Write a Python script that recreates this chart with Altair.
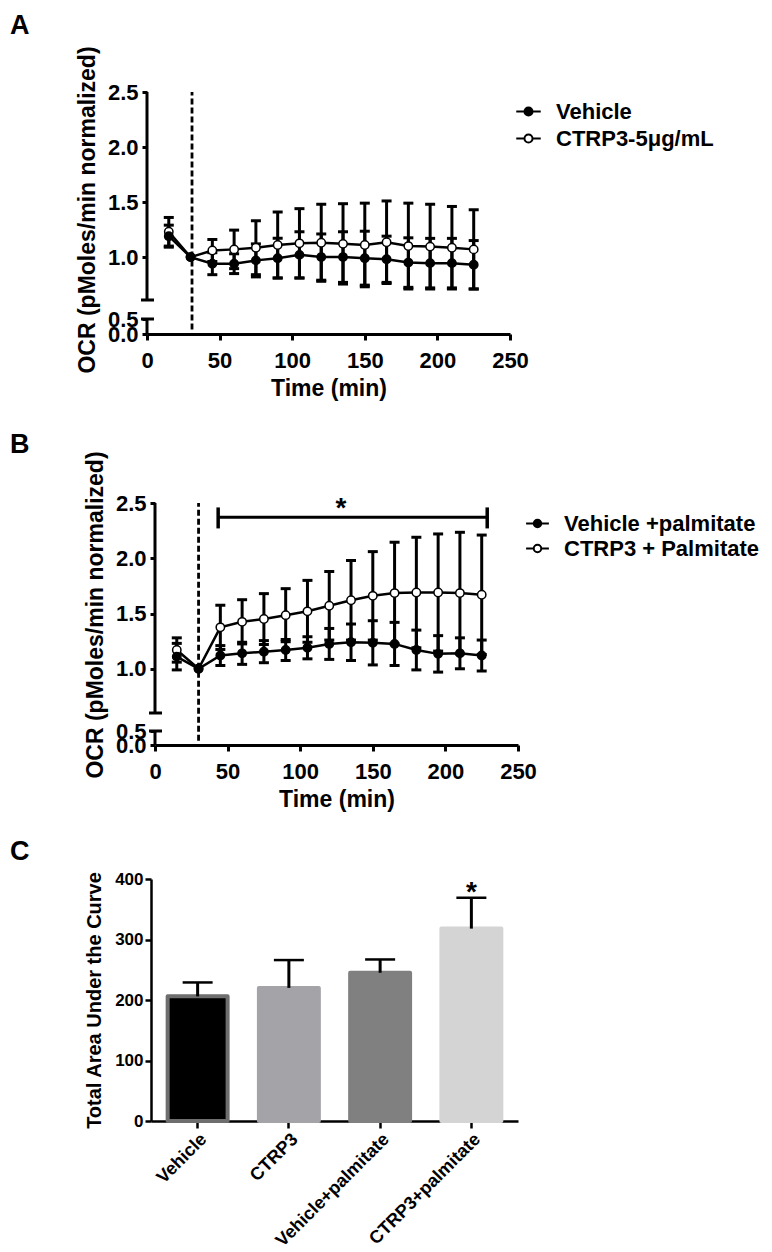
import altair as alt
import pandas as pd

FONT = "Liberation Sans"

# ---------------- data ----------------
time_min = [15, 30, 45, 60, 75, 90, 105, 120, 135, 150, 165, 180, 195, 210, 225]

a_series = ["Vehicle", "CTRP3-5μg/mL"]
a_vehicle = [1.19, 1.00, 0.94, 0.94, 0.97, 0.99, 1.02, 1.00, 1.00, 0.99, 0.98, 0.95, 0.945, 0.945, 0.93]
a_vehicle_sd = [0.10, 0.0, 0.10, 0.09, 0.15, 0.18, 0.21, 0.21, 0.23, 0.245, 0.21, 0.225, 0.225, 0.225, 0.22]
a_ctrp3 = [1.23, 1.00, 1.06, 1.07, 1.085, 1.11, 1.125, 1.13, 1.12, 1.11, 1.135, 1.10, 1.095, 1.085, 1.07]
a_ctrp3_sd = [0.13, 0.0, 0.10, 0.175, 0.245, 0.30, 0.315, 0.35, 0.365, 0.38, 0.375, 0.39, 0.385, 0.375, 0.36]
a_injection = 31

b_series = ["Vehicle +palmitate", "CTRP3 + Palmitate"]
b_vehicle = [1.11, 1.00, 1.12, 1.14, 1.155, 1.17, 1.19, 1.225, 1.24, 1.235, 1.225, 1.17, 1.135, 1.14, 1.12]
b_vehicle_sd = [0.12, 0.0, 0.09, 0.10, 0.10, 0.095, 0.10, 0.14, 0.165, 0.20, 0.195, 0.18, 0.165, 0.14, 0.14]
b_ctrp3 = [1.17, 1.00, 1.375, 1.425, 1.45, 1.485, 1.52, 1.57, 1.62, 1.66, 1.685, 1.69, 1.69, 1.685, 1.67]
b_ctrp3_sd = [0.11, 0.0, 0.20, 0.20, 0.23, 0.24, 0.28, 0.31, 0.36, 0.40, 0.46, 0.50, 0.53, 0.55, 0.54]
b_injection = 30
b_sig_span = [43.5, 228.8]
b_sig_level = 2.37
b_sig_cap = [2.27, 2.46]
b_sig_star_x = 128

ocr_ticks = [0.0, 0.5, 1.0, 1.5, 2.0, 2.5]
time_ticks = [0, 50, 100, 150, 200, 250]

c_groups = ["Vehicle", "CTRP3", "Vehicle+palmitate", "CTRP3+palmitate"]
c_auc = [206, 220, 245, 318]
c_err = [23, 46, 22, 51]
c_sig = ["", "", "", "*"]
c_fill = ["#000000", "#a3a3a8", "#808080", "#d4d4d4"]
c_edge = ["#6e6e6e", "#a3a3a8", "#808080", "#d4d4d4"]
auc_ticks = [0, 100, 200, 300, 400]

LEGEND_PATH = ("M-1,0L-0.33,0M0.33,0L1,0"
               "M-0.33,0A0.33,0.33,0,1,1,0.33,0A0.33,0.33,0,1,1,-0.33,0Z")

LETTER_X = -137


def letter_layer(letter, x, y):
    return alt.Chart(pd.DataFrame({"l": [letter]})).mark_text(
        align="left", baseline="top", fontSize=27, fontWeight="bold", font=FONT, color="black"
    ).encode(text="l:N", x=alt.value(x), y=alt.value(y))


def line_panel(letter, names, veh, veh_sd, ctrp, ctrp_sd, inj, y_break, y_px, x_px,
               width, height, shift, title_y, leg_x, leg_y, leg_size, leg_pad, letter_y,
               sig=False):
    xscale = alt.Scale(domain=[0, 250], range=x_px, nice=False, zero=False)
    yscale = alt.Scale(domain=[0, 0.5, y_break, 2.5], range=y_px, nice=False, zero=False)
    xaxis = alt.Axis(values=time_ticks, title="Time (min)", titleFontSize=23, titlePadding=6,
                     labelFontSize=22, labelPadding=10, tickSize=6, tickWidth=3, domainWidth=3,
                     labelFlush=False, labelOverlap=False, grid=False)
    yaxis = alt.Axis(values=ocr_ticks, format=".1f", title="OCR (pMoles/min normalized)",
                     titleFontSize=23, titlePadding=8, titleY=title_y, labelFontSize=22,
                     labelPadding=4, tickSize=5, tickWidth=3, domain=False, offset=-shift,
                     labelFlush=False, labelOverlap=False, grid=False)

    def X(f):
        return alt.X(field=f, type="quantitative", scale=xscale, axis=xaxis)

    def Y(f):
        return alt.Y(field=f, type="quantitative", scale=yscale, axis=yaxis)

    rows, caps = [], []
    for name, m, s in [(names[1], ctrp, ctrp_sd), (names[0], veh, veh_sd)]:
        for t, mi, si in zip(time_min, m, s):
            rows.append({"time": t, "series": name, "mean": mi, "lo": mi - si, "hi": mi + si})
            if si > 0:
                caps.append({"time": t, "v": mi - si})
                caps.append({"time": t, "v": mi + si})
    df = pd.DataFrame(rows)
    cdf = pd.DataFrame(caps)

    seg = pd.DataFrame({"lo": [0.0, y_break], "hi": [0.5, 2.5]})
    axis_line = alt.Chart(seg).mark_rule(color="black", strokeWidth=3).encode(
        x=alt.value(shift), y=Y("lo"), y2="hi")
    brk = pd.DataFrame({"v": [0.5, y_break]})
    break_marks = alt.Chart(brk).mark_rule(color="black", strokeWidth=3).encode(
        x=alt.value(shift - 6), x2=alt.value(shift + 7), y=Y("v"))
    dash = pd.DataFrame({"t": [inj], "lo": [0.15], "hi": [2.5]})
    dash_line = alt.Chart(dash).mark_rule(color="black", strokeWidth=2.8, strokeDash=[6, 3]).encode(
        x=X("t"), y=Y("lo"), y2="hi")
    errs = alt.Chart(df).mark_rule(color="black", strokeWidth=3).encode(
        x=X("time"), y=Y("lo"), y2="hi")
    capm = alt.Chart(cdf).mark_tick(color="black", orient="horizontal", size=10, thickness=3,
                                    opacity=1).encode(x=X("time"), y=Y("v"))
    lines = alt.Chart(df).mark_line(color="black", strokeWidth=2.5).encode(
        x=X("time"), y=Y("mean"), detail="series:N")
    pts = alt.Chart(df).mark_point(filled=True, size=70, stroke="black", strokeWidth=1.5,
                                   opacity=1).encode(
        x=X("time"), y=Y("mean"),
        fill=alt.Fill("series:N", scale=alt.Scale(domain=names, range=["black", "white"]),
                      legend=alt.Legend(title=None, orient="none", legendX=leg_x, legendY=leg_y,
                                        direction="vertical", symbolType=LEGEND_PATH,
                                        symbolSize=leg_size, symbolStrokeColor="black",
                                        symbolStrokeWidth=2, labelFont=FONT, labelFontSize=22,
                                        labelFontWeight="bold", labelColor="black",
                                        labelOffset=14, rowPadding=leg_pad, padding=0,
                                        labelLimit=400)))
    layers = [axis_line, break_marks, dash_line, errs, capm, lines, pts]
    if sig:
        br = pd.DataFrame({"x0": [b_sig_span[0]], "x1": [b_sig_span[1]], "y": [b_sig_level]})
        bracket = alt.Chart(br).mark_rule(color="black", strokeWidth=3).encode(
            x=X("x0"), x2="x1", y=Y("y"))
        bc = pd.DataFrame({"x": b_sig_span, "lo": [b_sig_cap[0]] * 2, "hi": [b_sig_cap[1]] * 2})
        bcaps = alt.Chart(bc).mark_rule(color="black", strokeWidth=3.5).encode(
            x=X("x"), y=Y("lo"), y2="hi")
        st = pd.DataFrame({"x": [b_sig_star_x], "y": [b_sig_level], "s": ["*"]})
        star = alt.Chart(st).mark_text(fontSize=28, fontWeight="bold", font=FONT,
                                       baseline="alphabetic", color="black").encode(
            x=X("x"), y=Y("y"), text="s:N")
        layers += [bracket, bcaps, star]
    layers.append(letter_layer(letter, LETTER_X, letter_y))
    return alt.layer(*layers).properties(width=width, height=height)


chart_a = line_panel("A", a_series, a_vehicle, a_vehicle_sd, a_ctrp3, a_ctrp3_sd, a_injection,
                     0.61, [242, 227, 208, 0], [0, 363], 363, 242, 0, 117.5,
                     368, 6, 600, 2, -79)
chart_b = line_panel("B", b_series, b_vehicle, b_vehicle_sd, b_ctrp3, b_ctrp3_sd, b_injection,
                     0.60, [277, 263, 245, 35], [8, 371], 371, 277, 8, 146.5,
                     378, 43, 520, 1, -36, sig=True)

# ---------------- panel C ----------------
cdf = pd.DataFrame({"group": c_groups, "auc": c_auc,
                    "hi": [a + e for a, e in zip(c_auc, c_err)], "sig": c_sig})
c_xscale = alt.Scale(domain=c_groups, range=[4, 371], paddingInner=0.343, paddingOuter=0.1825)
c_xaxis = alt.Axis(title=None, labelAngle=-45, labelFontSize=18, labelPadding=2,
                   tickSize=7, tickWidth=2.5, domainWidth=2.5, grid=False)
c_yscale = alt.Scale(domain=[0, 400], nice=False)
c_yaxis = alt.Axis(values=auc_ticks, title="Total Area Under the Curve", titleFontSize=20,
                   titlePadding=10, labelFontSize=17, labelPadding=2, tickSize=6,
                   tickWidth=2.5, domainWidth=2.5, offset=-4, grid=False)


def CX():
    return alt.X("group:N", sort=c_groups, scale=c_xscale, axis=c_xaxis)


def CY(f):
    return alt.Y(field=f, type="quantitative", scale=c_yscale, axis=c_yaxis,
                 title="Total Area Under the Curve")


bars = alt.Chart(cdf).mark_bar(strokeWidth=4, strokeJoin="round").encode(
    x=CX(), y=CY("auc"),
    fill=alt.Fill("group:N", scale=alt.Scale(domain=c_groups, range=c_fill), legend=None),
    stroke=alt.Stroke("group:N", scale=alt.Scale(domain=c_groups, range=c_edge), legend=None))
cerr = alt.Chart(cdf).mark_rule(color="black", strokeWidth=3).encode(x=CX(), y=CY("auc"), y2="hi:Q")
ccap = alt.Chart(cdf).mark_tick(color="black", orient="horizontal", size=30, thickness=2.5,
                                opacity=1).encode(x=CX(), y=CY("hi"))
cstar = alt.Chart(cdf).mark_text(fontSize=28, fontWeight="bold", font=FONT, baseline="alphabetic",
                                 dy=3, color="black").encode(x=CX(), y=CY("hi"), text="sig:N")
chart_c = alt.layer(bars, cerr, ccap, cstar, letter_layer("C", LETTER_X, -40)).properties(
    width=371, height=242)

chart = alt.vconcat(chart_a, chart_b, chart_c, spacing=134, bounds="flush").resolve_scale(
    fill="independent", stroke="independent"
).resolve_legend(fill="independent", stroke="independent").properties(
    padding={"left": 2, "top": 4, "right": 0, "bottom": 0}, background="white"
).configure_view(stroke=None).configure_axis(
    domainColor="black", tickColor="black", labelColor="black", titleColor="black",
    labelFont=FONT, titleFont=FONT, labelFontWeight="bold", titleFontWeight="bold"
)

chart.save("out.html", embed_options={"renderer": "svg", "actions": False})
